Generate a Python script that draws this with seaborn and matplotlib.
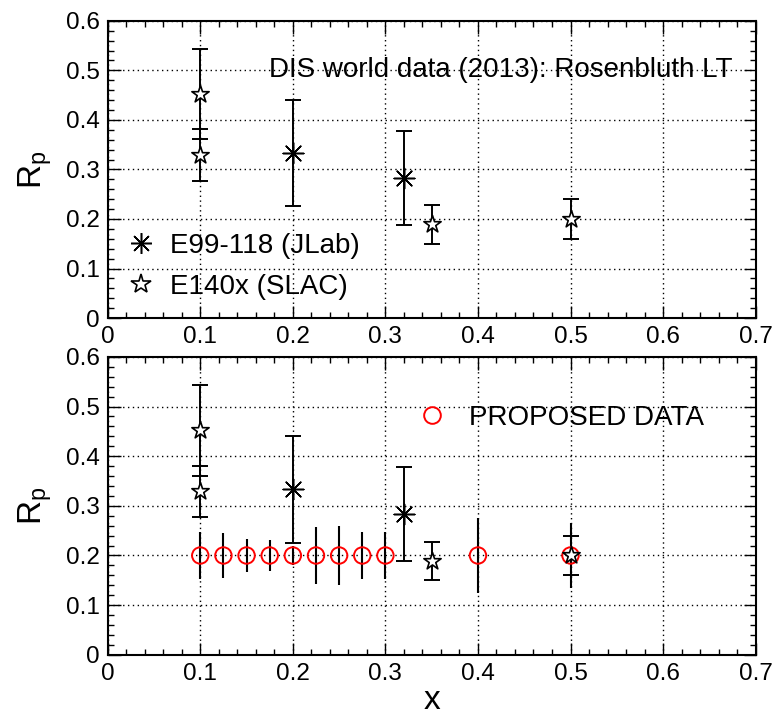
import matplotlib
matplotlib.use("Agg")
import matplotlib.pyplot as plt
from matplotlib.lines import Line2D
from matplotlib.ticker import MultipleLocator
import seaborn as sns
import pandas as pd

# ---- data ----
jlab_x = [0.2, 0.32]
jlab_y = [0.333, 0.283]
jlab_err = [0.107, 0.095]

slac_x = [0.1, 0.1, 0.35, 0.5]
slac_y = [0.452, 0.329, 0.189, 0.200]
slac_err = [0.091, 0.052, 0.039, 0.040]

prop_x = [0.1, 0.125, 0.15, 0.175, 0.2, 0.225, 0.25, 0.275, 0.3, 0.4, 0.5]
prop_y = [0.2, 0.2, 0.2, 0.2, 0.2, 0.2, 0.2, 0.2, 0.2, 0.2, 0.2]
prop_err = [0.047, 0.046, 0.033, 0.032, 0.020, 0.057, 0.059, 0.048, 0.047, 0.076, 0.065]

title_text = "DIS world data (2013): Rosenbluth LT"
jlab_label = "E99-118 (JLab)"
slac_label = "E140x (SLAC)"
prop_label = "PROPOSED DATA"

sns.set_theme(style="ticks")
plt.rcParams['font.family'] = ['Liberation Sans', 'DejaVu Sans']
plt.rcParams['text.color'] = 'black'
plt.rcParams['axes.labelcolor'] = 'black'
plt.rcParams['xtick.color'] = 'black'
plt.rcParams['ytick.color'] = 'black'
plt.rcParams['mathtext.fontset'] = 'custom'
plt.rcParams['mathtext.rm'] = 'Liberation Sans'
plt.rcParams['mathtext.it'] = 'Liberation Sans'
plt.rcParams['mathtext.default'] = 'regular'

jlab = pd.DataFrame({"x": jlab_x, "y": jlab_y, "err": jlab_err})
slac = pd.DataFrame({"x": slac_x, "y": slac_y, "err": slac_err})
prop = pd.DataFrame({"x": prop_x, "y": prop_y, "err": prop_err})

fig = plt.figure(figsize=(7.75, 7.18), dpi=100)
ax1 = fig.add_axes([0.139, 0.557, 0.836, 0.414])
ax2 = fig.add_axes([0.139, 0.088, 0.836, 0.415])

AST = (8, 2, 0)

def style_axes(ax):
    ax.set_xlim(0, 0.7)
    ax.set_ylim(0, 0.6)
    ax.xaxis.set_major_locator(MultipleLocator(0.1))
    ax.xaxis.set_minor_locator(MultipleLocator(0.02))
    ax.yaxis.set_major_locator(MultipleLocator(0.1))
    ax.yaxis.set_minor_locator(MultipleLocator(0.02))
    ax.set_xticks([0, 0.1, 0.2, 0.3, 0.4, 0.5, 0.6, 0.7])
    ax.set_xticklabels(["0", "0.1", "0.2", "0.3", "0.4", "0.5", "0.6", "0.7"])
    ax.set_yticks([0, 0.1, 0.2, 0.3, 0.4, 0.5, 0.6])
    ax.set_yticklabels(["0", "0.1", "0.2", "0.3", "0.4", "0.5", "0.6"])
    ax.tick_params(which='both', direction='in', top=True, right=True,
                   labelsize=17.5, colors='black', width=1)
    ax.tick_params(which='major', length=9, pad=6)
    ax.tick_params(which='minor', length=4.5)
    ax.grid(True, which='major', linestyle=(0, (1, 2.5)), color='black', linewidth=1)
    for s in ax.spines.values():
        s.set_linewidth(1.5)
        s.set_color('black')
    ax.set_facecolor('white')

def draw_world(ax):
    ax.errorbar(jlab["x"], jlab["y"], yerr=jlab["err"], fmt='none', ecolor='black',
                elinewidth=1.4, capsize=6, capthick=1.4, zorder=3)
    ax.errorbar(slac["x"], slac["y"], yerr=slac["err"], fmt='none', ecolor='black',
                elinewidth=1.4, capsize=6, capthick=1.4, zorder=3)
    sns.scatterplot(data=jlab, x="x", y="y", ax=ax, marker=AST, s=220,
                    color='black', linewidth=1.1, zorder=5, legend=False)
    sns.scatterplot(data=slac, x="x", y="y", ax=ax, marker='*', s=170,
                    facecolor='white', edgecolor='black', linewidth=1.2, zorder=5, legend=False)

# ---- top panel ----
style_axes(ax1)
draw_world(ax1)
ax1.set_xlabel("")
ax1.text(0.965, 0.835, title_text, transform=ax1.transAxes, ha='right', va='center',
         fontsize=20, color='black')
h1 = Line2D([], [], linestyle='none', marker=AST, markersize=15, color='black', markeredgewidth=1.1)
h2 = Line2D([], [], linestyle='none', marker='*', markersize=15, markerfacecolor='white',
            markeredgecolor='black', markeredgewidth=1.2)
ax1.legend([h1, h2], [jlab_label, slac_label], loc='lower left', bbox_to_anchor=(0.0, -0.005),
           frameon=False, fontsize=20, handlelength=1.0, handletextpad=0.55,
           labelspacing=0.55, borderaxespad=0.5, borderpad=0.2)
ax1.set_ylabel("R$_p$", fontsize=24, labelpad=8)

# ---- bottom panel ----
style_axes(ax2)
ax2.errorbar(prop["x"], prop["y"], yerr=prop["err"], fmt='none', ecolor='black',
             elinewidth=1.5, capsize=0, zorder=2)
sns.scatterplot(data=prop, x="x", y="y", ax=ax2, marker='o', s=140,
                facecolor='none', edgecolor='red', linewidth=1.4, zorder=4, legend=False)
draw_world(ax2)
ax2.set_xlabel("x", fontsize=24, labelpad=0)
ax2.set_ylabel("R$_p$", fontsize=24, labelpad=8)
h3 = Line2D([], [], linestyle='none', marker='o', markersize=12, markerfacecolor='none',
            markeredgecolor='red', markeredgewidth=1.4)
ax2.legend([h3], [prop_label], loc='center left', bbox_to_anchor=(0.44, 0.795),
           frameon=False, fontsize=20, handlelength=1.0, handletextpad=0.85)

fig.savefig("out.png", dpi=100, facecolor='white')
